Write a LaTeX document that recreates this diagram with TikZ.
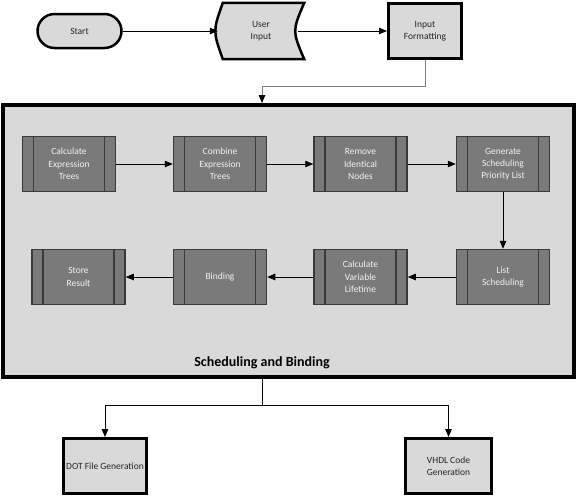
\documentclass[tikz,border=0pt]{standalone}
\usepackage{fontspec}
\setmainfont{Carlito}
\usepackage{tikz}
\usetikzlibrary{arrows.meta,backgrounds}

\definecolor{boxgray}{HTML}{D9D9D9}
\definecolor{procgray}{HTML}{7A7A7A}
\definecolor{procline}{HTML}{3A3A3A}

\tikzset{
  lbl/.style={align=center,font=\fontsize{9.5}{12.3}\selectfont,text=black!85},
  proc/.style={draw=procline,line width=1.5pt,fill=procgray,inner sep=0pt,
    minimum width=93pt,minimum height=55pt,align=center,
    font=\fontsize{9.5}{12.3}\selectfont,text=white!95!black,
    path picture={
      \draw [procline,line width=1.5pt]
        ([xshift=11pt]path picture bounding box.north west)--([xshift=11pt]path picture bounding box.south west)
        ([xshift=-11pt]path picture bounding box.north east)--([xshift=-11pt]path picture bounding box.south east);
    }},
  outbox/.style={lbl,draw,line width=3pt,fill=boxgray,inner sep=0pt},
  link/.style={line width=0.8pt}
}

\begin{document}
\begin{tikzpicture}[x=1pt,y=-1pt,>={Triangle[length=8pt,width=6.5pt]}]
        \useasboundingbox (0,0) rectangle (577,496);
        % top row
        \node [outbox,line width=2.5pt,rounded corners=17pt,minimum width=84pt,minimum height=34pt] (start) at(79.5,31) {Start};
        \node [lbl,minimum width=86pt,minimum height=56pt,inner sep=0pt] (user) at(261,31) {User\\Input};
        \begin{scope}[on background layer]
        \draw [line width=2.5pt,fill=boxgray] ([xshift=5pt]user.north west)--(user.north east)
              .. controls ([xshift=-12pt]user.east) .. (user.south east)
              --([xshift=5pt]user.south west)
              .. controls ([xshift=-5pt]user.west) .. cycle;
        \end{scope}
        \node [outbox,minimum width=73pt,minimum height=55pt] (fmt) at(425,31) {Input\\Formatting};
        \draw [link,->] (start)--(user.west);
        \draw [link,->] ([xshift=-6pt]user.east)--(fmt);

        % scheduling and binding
        \node [draw,line width=4pt,fill=boxgray,inner sep=0pt,minimum width=571pt,minimum height=272pt] (sched) at(288,241) {};
        \node [font=\fontsize{14}{16}\selectfont\bfseries] (title) at(262,363) {Scheduling and Binding};
        \coordinate (bend) at(262,86);
        \draw [link,gray,-{Triangle[length=8pt,width=6.5pt,color=black]}] (fmt.south) |- (bend)--(bend |- sched.north);

        \node [proc] (calc) at(69,164) {Calculate\\Expression\\Trees};
        \node [proc] (comb) at(220,164) {Combine\\Expression\\Trees};
        \node [proc] (remove) at(360.5,164) {Remove\\Identical\\Nodes};
        \node [proc] (prio) at(503,164) {Generate\\Scheduling\\Priority List};
        \node [proc] (list) at(503,277) {List\\Scheduling};
        \node [proc] (life) at(360.5,277) {Calculate\\Variable\\Lifetime};
        \node [proc] (bind) at(220,277) {Binding};
        \node [proc] (store) at(78.5,277) {Store\\Result};
        \draw [link,->] (calc)--(comb);
        \draw [link,->] (comb)--(remove);
        \draw [link,->] (remove)--(prio);
        \draw [link,->] (prio)--(list);
        \draw [link,->] (list)--(life);
        \draw [link,->] (life)--(bind);
        \draw [link,->] (bind)--(store);

        % outputs
        \node [outbox,minimum width=83pt,minimum height=55pt] (dot) at(105,466) {DOT File Generation};
        \node [outbox,minimum width=86pt,minimum height=55pt] (vhdl) at(448.5,466) {VHDL Code\\Generation};
        \coordinate (split) at(262,405);
        \draw [link] (split |- sched.south)--(split);
        \draw [link,->] (split) -| (dot.north);
        \draw [link,->] (split) -| (vhdl.north);
\end{tikzpicture}
\end{document}
